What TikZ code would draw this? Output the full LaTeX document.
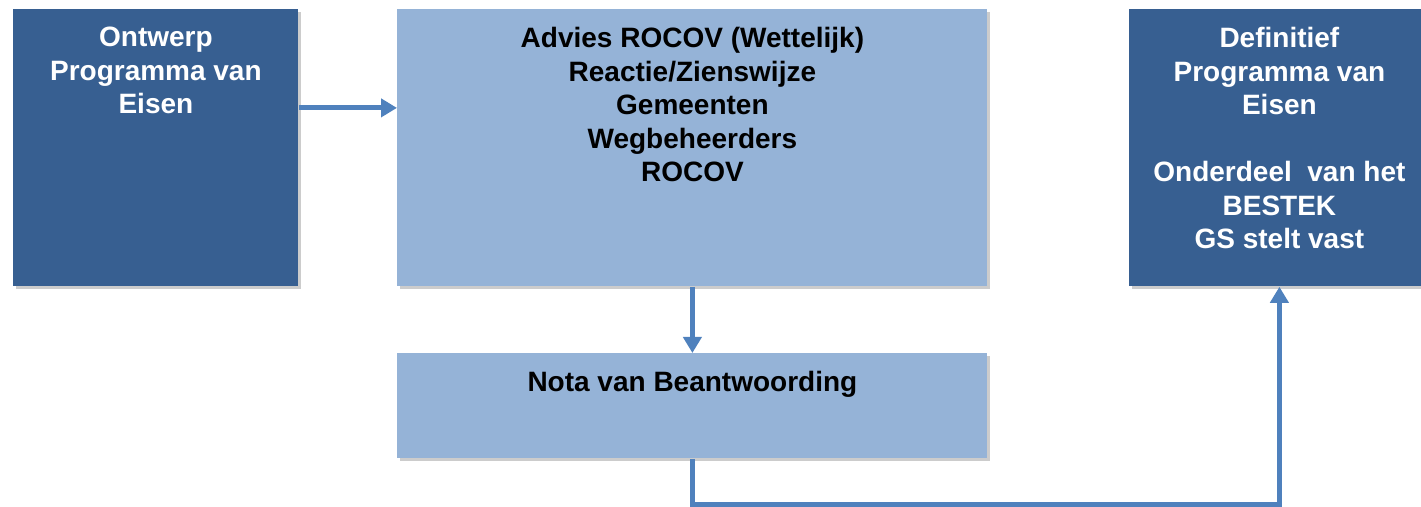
\documentclass[tikz,border=0pt]{standalone}
\usepackage{fontspec}
\setmainfont{Liberation Sans}
\usetikzlibrary{arrows.meta,shadows}

\definecolor{darkbox}{HTML}{375F91}
\definecolor{lightbox}{HTML}{95B3D7}
\definecolor{linkblue}{HTML}{4F81BD}

\begin{document}
\begin{tikzpicture}[x=0.5pt, y=-0.5pt,
    box/.style={draw=none, inner sep=0pt, anchor=north west,
        drop shadow={shadow xshift=1.2pt, shadow yshift=-1.2pt, opacity=0.2, fill=black}},
    dark/.style={box, fill=darkbox},
    light/.style={box, fill=lightbox},
    boxtext/.style={anchor=north, inner sep=0pt, align=center,
        font=\bfseries\fontsize{14}{16.75}\selectfont},
    link/.style={linkblue, line width=2.5pt},
    arrow/.style={link, -{Triangle[length=8pt, width=9pt]}}]

    \useasboundingbox (0,0) rectangle (1421,507);

    % Draw the boxes
    \node[dark, minimum width=142.5pt, minimum height=138.5pt] (ontwerp) at (13,9) {};
    \node[light, minimum width=295pt, minimum height=138.5pt] (advies) at (397,9) {};
    \node[light, minimum width=295pt, minimum height=52.5pt] (nota) at (397,353) {};
    \node[dark, minimum width=150pt, minimum height=138.5pt] (definitief) at (1129,9) {};

    % Texts in the boxes
    \node[boxtext, white] (ontwerptxt) at ([yshift=-9pt]ontwerp.north)
        {Ontwerp\\Programma van\\Eisen};
    \node[boxtext] (adviestxt) at ([yshift=-9pt]advies.north)
        {Advies ROCOV (Wettelijk)\\Reactie/Zienswijze\\Gemeenten\\Wegbeheerders\\ROCOV};
    \node[boxtext] (notatxt) at ([yshift=-9pt]nota.north) {Nota van Beantwoording};
    \node[boxtext, white] (definitieftxt) at ([yshift=-9pt]definitief.north)
        {Definitief\\Programma van\\Eisen\\[16.75pt]Onderdeel\ \ van het\\BESTEK\\GS stelt vast};

    % Connectors
    \draw[arrow] ([yshift=20pt]ontwerp.east) -- ([yshift=20pt]advies.west);
    \draw[arrow] (advies.south) -- (nota.north);
    \draw[arrow] (nota.south) -- ++(0,46) -| (definitief.south);

\end{tikzpicture}
\end{document}
